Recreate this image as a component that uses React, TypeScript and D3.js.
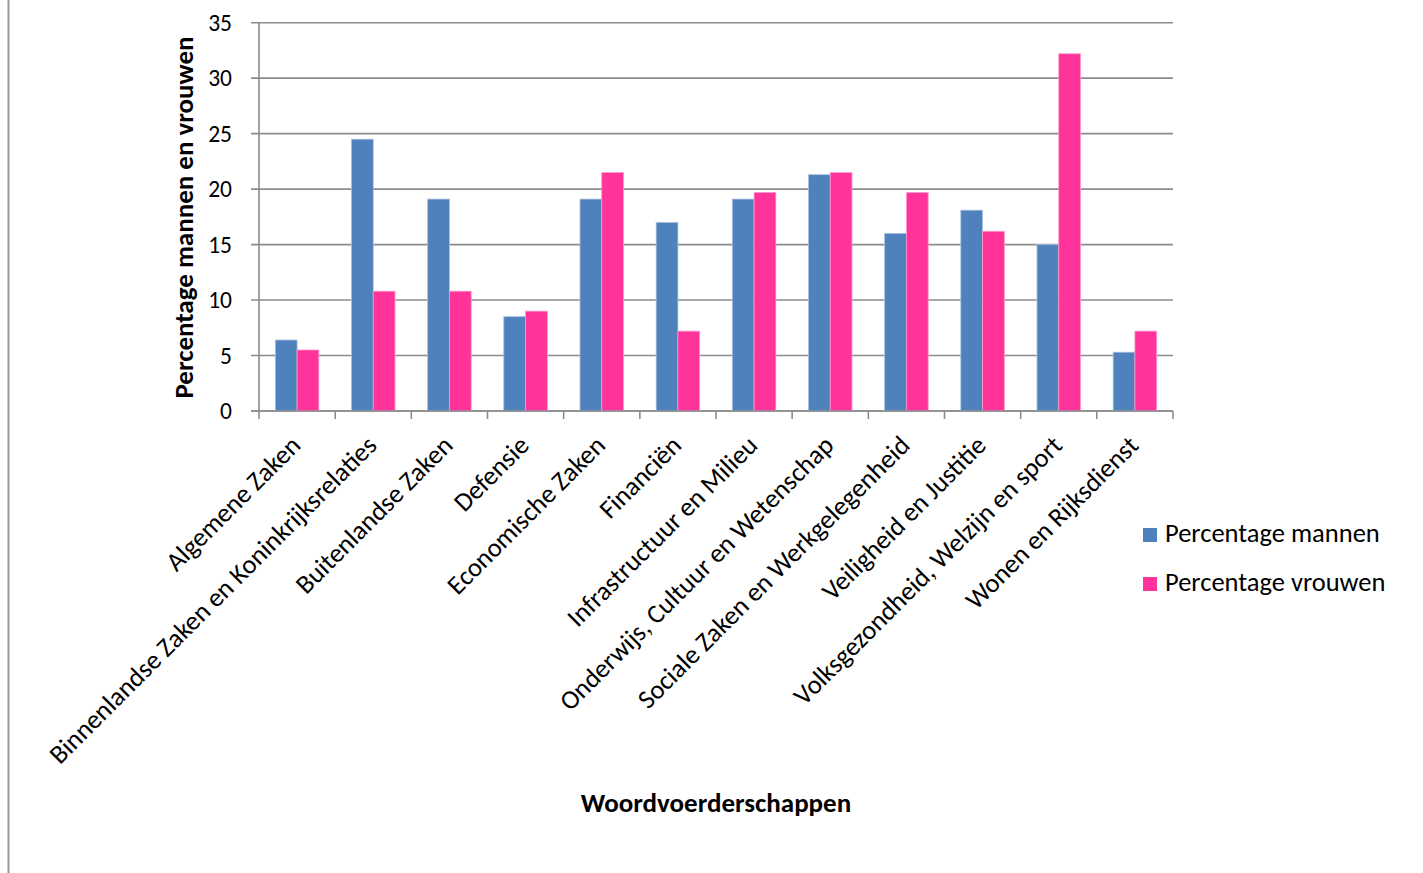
import React from 'react';
import * as d3 from 'd3';

const categories = [
    'Algemene Zaken',
    'Binnenlandse Zaken en Koninkrijksrelaties',
    'Buitenlandse Zaken',
    'Defensie',
    'Economische Zaken',
    'Financiën',
    'Infrastructuur en Milieu',
    'Onderwijs, Cultuur en Wetenschap',
    'Sociale Zaken en Werkgelegenheid',
    'Veiligheid en Justitie',
    'Volksgezondheid, Welzijn en sport',
    'Wonen en Rijksdienst',
];

const seriesNames = ['Percentage mannen', 'Percentage vrouwen'];
const mannen = [6.4, 24.5, 19.1, 8.5, 19.1, 17.0, 19.1, 21.3, 16.0, 18.1, 15.0, 5.3];
const vrouwen = [5.5, 10.8, 10.8, 9.0, 21.5, 7.2, 19.7, 21.5, 19.7, 16.2, 32.2, 7.2];
const yTicks = [0, 5, 10, 15, 20, 25, 30, 35];

const colors = ['#4F81BD', '#FF3399'];
const FONT = 'Calibri, Carlito, Lato, sans-serif';

const App = () => {
    const width = 1423;
    const height = 873;
    const left = 259;
    const right = 1173;
    const top = 22.7;
    const bottom = 411;

    const x = d3.scaleBand().domain(categories).range([left, right]).padding(0);
    const x1 = d3.scaleBand().domain(seriesNames).range([0, x.bandwidth()]).paddingInner(0).paddingOuter(0.75);
    const y = d3.scaleLinear().domain([0, 35]).range([bottom, top]);

    const values = [mannen, vrouwen];
    const boundaries = categories.map((c) => x(c)).concat([right]);

    return (
        <div style={{ position: 'absolute', left: 0, top: 0 }}>
            <svg width={width} height={height} style={{ display: 'block', background: '#fff' }} fontFamily={FONT}>
                <line x1={8.5} x2={8.5} y1={0} y2={height} stroke="#999" strokeWidth={2} />

                {yTicks.map((t) => (
                    <g key={t}>
                        <line x1={left - 8} x2={right} y1={y(t)} y2={y(t)} stroke="#8c8c8c" strokeWidth={1.6} />
                        <text x={232} y={y(t)} dy="0.35em" textAnchor="end" fontSize={23.5} fill="#000">{t}</text>
                    </g>
                ))}

                {values.map((vals, si) =>
                    categories.map((c, i) => (
                        <rect
                            key={si + '-' + c}
                            x={x(c) + x1(seriesNames[si])}
                            y={y(vals[i])}
                            width={x1.bandwidth()}
                            height={bottom - y(vals[i])}
                            fill={colors[si]}
                            stroke={si === 0 ? '#a7c0de' : '#ff99cc'}
                            strokeWidth={0.8}
                        />
                    ))
                )}

                <line x1={left} x2={left} y1={top} y2={bottom} stroke="#8c8c8c" strokeWidth={1.6} />
                <line x1={left - 8} x2={right} y1={bottom} y2={bottom} stroke="#8c8c8c" strokeWidth={1.6} />
                {boundaries.map((b, i) => (
                    <line key={i} x1={b} x2={b} y1={bottom} y2={bottom + 8} stroke="#8c8c8c" strokeWidth={1.6} />
                ))}

                {categories.map((c) => (
                    <text
                        key={c}
                        transform={`translate(${x(c) + x.bandwidth() / 2 + 5},${447}) rotate(-45)`}
                        textAnchor="end"
                        fontSize={26.5}
                        fill="#000"
                    >
                        {c}
                    </text>
                ))}

                <text
                    transform={`translate(${193},${217.5}) rotate(-90)`}
                    textAnchor="middle"
                    fontSize={27}
                    fontWeight="bold"
                    fill="#000"
                >
                    Percentage mannen en vrouwen
                </text>
                <text x={716} y={812} textAnchor="middle" fontSize={27} fontWeight="bold" fill="#000">
                    Woordvoerderschappen
                </text>

                {seriesNames.map((s, i) => (
                    <g key={s} transform={`translate(1143,${528 + i * 49})`}>
                        <rect width={14} height={14} fill={colors[i]} />
                        <text x={22} y={14} fontSize={26.5} fill="#000">{s}</text>
                    </g>
                ))}
            </svg>
        </div>
    );
};

export default App;
